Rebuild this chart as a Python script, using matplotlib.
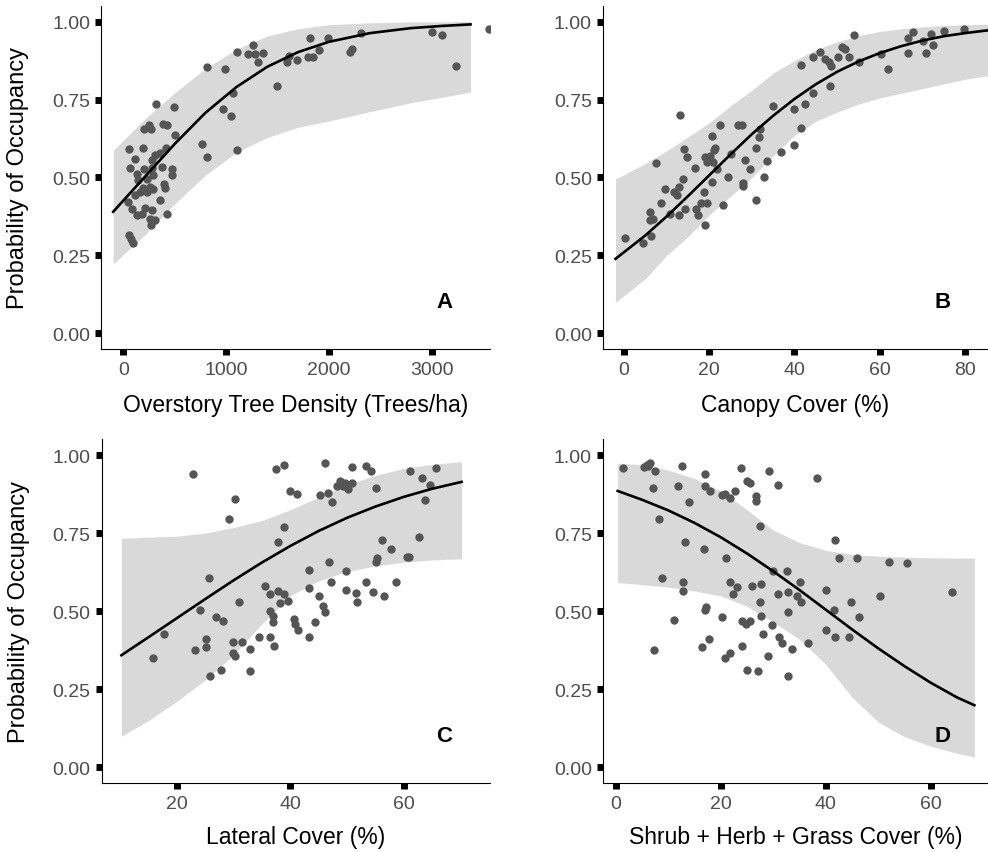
import matplotlib
matplotlib.use('Agg')
import matplotlib.pyplot as plt

plt.rcParams['font.family'] = ['Liberation Sans', 'DejaVu Sans']

# ---- Panel A: overstory tree density ----
densityX = [3560, 3002, 3105, 3235, 2313, 2222, 2206, 1989, 1908, 1816, 1800, 1849, 1687, 1615,
            1589, 1492, 1265, 1217, 1281, 1362, 1307, 1109, 985, 817, 1063, 966, 1050, 764, 810,
            1106, 313, 492, 200, 252, 268, 382, 427, 501, 57, 187, 112, 63, 128, 200, 274, 307,
            355, 414, 274, 372, 469, 469, 144, 226, 291, 394, 404, 193, 258, 47, 112, 161, 226,
            291, 355, 79, 128, 209, 274, 420, 177, 258, 307, 268, 53, 73, 89]
densityY = [0.976, 0.965, 0.958, 0.859, 0.962, 0.912, 0.901, 0.947, 0.910, 0.947, 0.885, 0.885,
            0.878, 0.891, 0.869, 0.795, 0.926, 0.896, 0.896, 0.899, 0.869, 0.903, 0.848, 0.854,
            0.770, 0.720, 0.697, 0.606, 0.567, 0.587, 0.736, 0.727, 0.656, 0.669, 0.656, 0.671,
            0.669, 0.635, 0.592, 0.595, 0.558, 0.530, 0.510, 0.526, 0.555, 0.571, 0.579, 0.594,
            0.530, 0.533, 0.528, 0.507, 0.491, 0.496, 0.507, 0.480, 0.466, 0.466, 0.469, 0.420,
            0.443, 0.453, 0.453, 0.464, 0.427, 0.400, 0.379, 0.402, 0.395, 0.384, 0.384, 0.368,
            0.365, 0.349, 0.315, 0.304, 0.291]
densityCurveX = [-100, 200, 500, 800, 1100, 1400, 1700, 2000, 2400, 2800, 3100, 3380]
densityFit = [0.390, 0.499, 0.608, 0.708, 0.790, 0.855, 0.902, 0.935, 0.963, 0.979, 0.986, 0.991]
densityLow = [0.223, 0.313, 0.416, 0.508, 0.581, 0.628, 0.661, 0.681, 0.711, 0.740, 0.757, 0.774]
densityHigh = [0.587, 0.685, 0.772, 0.850, 0.911, 0.954, 0.977, 0.990, 0.996, 0.999, 0.999, 1.0]

# ---- Panel B: canopy cover ----
canopyX = [0.2, 4.4, 6.3, 6.0, 6.1, 6.7, 7.5, 8.8, 9.6, 10.8, 11.7, 12.4, 12.8, 13.1, 12.8, 13.9,
           14.1, 14.3, 14.7, 16.7, 16.9, 17.4, 18.0, 18.8, 18.9, 19.0, 19.4, 19.5, 20.2, 20.6,
           21.0, 20.8, 20.6, 21.4, 21.9, 22.5, 23.2, 24.5, 25.1, 26.8, 27.6, 27.9, 27.9, 28.4,
           29.6, 31.0, 31.0, 31.6, 31.9, 32.9, 33.5, 34.9, 36.9, 39.9, 40.0, 41.5, 41.6, 42.5,
           44.3, 44.3, 45.9, 47.2, 48.4, 48.2, 48.6, 50.3, 51.1, 51.9, 52.9, 53.9, 55.2, 60.3,
           61.9, 66.6, 66.6, 67.9, 70.1, 70.9, 72.0, 72.4, 75.0, 79.7]
canopyY = [0.306, 0.290, 0.313, 0.389, 0.363, 0.368, 0.546, 0.419, 0.464, 0.384, 0.455, 0.443,
           0.469, 0.699, 0.379, 0.496, 0.592, 0.400, 0.567, 0.531, 0.398, 0.379, 0.419, 0.455,
           0.349, 0.565, 0.549, 0.419, 0.569, 0.633, 0.587, 0.549, 0.485, 0.594, 0.528, 0.669,
           0.411, 0.501, 0.574, 0.667, 0.669, 0.482, 0.473, 0.556, 0.526, 0.595, 0.427, 0.631,
           0.656, 0.503, 0.553, 0.729, 0.581, 0.720, 0.605, 0.861, 0.659, 0.736, 0.885, 0.771,
           0.903, 0.880, 0.795, 0.869, 0.859, 0.887, 0.917, 0.912, 0.885, 0.957, 0.871, 0.896,
           0.848, 0.946, 0.899, 0.965, 0.939, 0.899, 0.960, 0.925, 0.969, 0.976]
canopyCurveX = [-2, 5, 10, 15, 20, 25, 30, 35, 40, 45, 50, 55, 60, 65, 70, 75, 80, 86]
canopyFit = [0.239, 0.314, 0.375, 0.440, 0.507, 0.574, 0.639, 0.698, 0.752, 0.799, 0.839, 0.872,
             0.899, 0.921, 0.939, 0.953, 0.963, 0.973]
canopyLow = [0.100, 0.175, 0.250, 0.310, 0.380, 0.440, 0.500, 0.570, 0.635, 0.680, 0.710, 0.735,
             0.755, 0.770, 0.785, 0.800, 0.815, 0.828]
canopyHigh = [0.495, 0.545, 0.585, 0.630, 0.675, 0.730, 0.780, 0.835, 0.875, 0.910, 0.935, 0.955,
              0.968, 0.977, 0.983, 0.987, 0.990, 0.992]

# ---- Panel C: lateral cover ----
lateralX = [15.8, 17.7, 22.8, 23.1, 24.1, 25.2, 25.2, 25.6, 25.9, 26.9, 27.8, 28.2, 29.2, 29.8,
            29.9, 30.2, 30.2, 31.0, 31.4, 32.9, 32.9, 34.5, 35.6, 36.4, 36.4, 36.4, 36.9, 36.9,
            37.1, 37.5, 37.9, 37.9, 38.2, 38.9, 38.9, 38.9, 39.6, 39.9, 40.6, 40.8, 41.1, 41.4,
            43.2, 43.2, 43.2, 44.3, 45.0, 45.3, 45.7, 46.1, 46.1, 46.7, 46.8, 47.2, 47.3, 48.2,
            48.7, 49.3, 49.8, 49.8, 50.2, 50.8, 50.8, 51.6, 51.7, 53.3, 53.3, 54.2, 54.5, 55.1,
            55.1, 55.3, 56.2, 56.6, 57.7, 58.7, 60.5, 61.1, 62.6, 63.3, 63.7, 64.7, 65.6, 61.0, 49.6]
lateralY = [0.349, 0.427, 0.939, 0.377, 0.505, 0.411, 0.384, 0.605, 0.291, 0.480, 0.313, 0.470,
            0.795, 0.400, 0.366, 0.859, 0.355, 0.528, 0.400, 0.379, 0.307, 0.417, 0.582, 0.555,
            0.502, 0.418, 0.466, 0.486, 0.390, 0.955, 0.720, 0.566, 0.526, 0.969, 0.771, 0.555,
            0.534, 0.886, 0.475, 0.459, 0.875, 0.441, 0.632, 0.574, 0.418, 0.466, 0.548, 0.872,
            0.518, 0.974, 0.496, 0.880, 0.656, 0.594, 0.851, 0.902, 0.918, 0.902, 0.630, 0.569,
            0.891, 0.961, 0.912, 0.558, 0.531, 0.592, 0.966, 0.948, 0.560, 0.893, 0.656, 0.670,
            0.729, 0.548, 0.699, 0.594, 0.672, 0.948, 0.736, 0.925, 0.856, 0.905, 0.957, 0.672, 0.912]
lateralCurveX = [10.2, 15, 20, 25, 30, 35, 40, 45, 50, 55, 60, 65, 70.2]
lateralFit = [0.359, 0.417, 0.478, 0.539, 0.599, 0.656, 0.709, 0.757, 0.799, 0.835, 0.866, 0.892, 0.914]
lateralLow = [0.100, 0.150, 0.212, 0.280, 0.360, 0.460, 0.550, 0.597, 0.627, 0.645, 0.657, 0.664, 0.668]
lateralHigh = [0.733, 0.737, 0.740, 0.750, 0.768, 0.790, 0.825, 0.865, 0.905, 0.935, 0.957, 0.970, 0.979]

# ---- Panel D: shrub + herb + grass cover ----
shrubX = [1.5, 5.4, 5.9, 6.6, 6.2, 7.5, 7.1, 8.3, 7.4, 8.8, 11.9, 12.6, 11.1, 12.9, 12.9, 13.3,
          14.0, 16.4, 16.9, 17.0, 17.0, 17.0, 17.3, 17.7, 17.9, 20.2, 20.2, 20.8, 21.0, 20.8,
          21.8, 21.7, 21.8, 22.3, 22.7, 23.2, 23.8, 24.0, 24.1, 24.9, 25.1, 25.6, 25.9, 25.0,
          25.6, 26.7, 26.7, 27.2, 27.5, 27.5, 27.7, 27.7, 28.0, 29.1, 29.2, 29.7, 29.9, 31.0,
          31.0, 31.2, 31.6, 32.6, 32.8, 32.9, 32.9, 33.5, 34.5, 35.1, 35.3, 36.7, 38.4, 40.1,
          40.1, 41.5, 41.8, 41.8, 42.6, 44.5, 44.9, 45.9, 46.4, 50.4, 52.1, 55.4, 64.0]
shrubY = [0.957, 0.961, 0.968, 0.974, 0.966, 0.948, 0.894, 0.795, 0.377, 0.605, 0.902, 0.966,
          0.472, 0.594, 0.566, 0.720, 0.848, 0.384, 0.699, 0.939, 0.900, 0.505, 0.514, 0.411,
          0.886, 0.480, 0.872, 0.875, 0.670, 0.349, 0.366, 0.592, 0.861, 0.555, 0.886, 0.576,
          0.957, 0.470, 0.390, 0.459, 0.313, 0.470, 0.582, 0.918, 0.912, 0.870, 0.854, 0.307,
          0.772, 0.528, 0.587, 0.486, 0.427, 0.355, 0.948, 0.456, 0.630, 0.555, 0.905, 0.418,
          0.398, 0.630, 0.496, 0.560, 0.291, 0.379, 0.548, 0.594, 0.530, 0.398, 0.925, 0.569,
          0.440, 0.505, 0.728, 0.418, 0.670, 0.418, 0.528, 0.670, 0.480, 0.548, 0.656, 0.654, 0.560]
shrubCurveX = [0.4, 5, 10, 15, 20, 25, 30, 35, 40, 45, 50, 55, 60, 65, 68.3]
shrubFit = [0.885, 0.857, 0.823, 0.783, 0.737, 0.685, 0.628, 0.568, 0.505, 0.442, 0.381, 0.324,
            0.271, 0.224, 0.199]
shrubLow = [0.592, 0.585, 0.577, 0.565, 0.549, 0.516, 0.466, 0.410, 0.330, 0.225, 0.145, 0.098,
            0.068, 0.045, 0.033]
shrubHigh = [0.974, 0.969, 0.952, 0.925, 0.885, 0.825, 0.760, 0.720, 0.695, 0.682, 0.676, 0.673,
             0.671, 0.670, 0.670]

yTicks = [0.0, 0.25, 0.5, 0.75, 1.0]
yTickLabels = ['0.00', '0.25', '0.50', '0.75', '1.00']


def drawPanel(ax, x, y, cx, fit, low, high, xlim, xticks, xlabel, letter, labelY, ylabel=None):
    # ribbon under the points, fitted line on top
    ax.fill_between(cx, low, high, color='#d9d9d9', lw=0, zorder=1)
    ax.scatter(x, y, s=36, color='#555555', lw=0, zorder=2)
    ax.plot(cx, fit, color='black', lw=1.9, zorder=3)
    ax.set_xlim(xlim)
    ax.set_ylim(-0.05, 1.05)
    ax.set_xticks(xticks)
    ax.set_xticklabels([str(t) for t in xticks])
    ax.set_yticks(yTicks)
    ax.set_yticklabels(yTickLabels)
    for side in ['top', 'right']:
        ax.spines[side].set_visible(False)
    for side in ['left', 'bottom']:
        ax.spines[side].set_linewidth(0.8)
    ax.tick_params(length=4.5, width=5, color='black', labelsize=14,
                   labelcolor='#4d4d4d', pad=3.5)
    ax.tick_params(axis='x', pad=4.5)
    ax.set_xlabel(xlabel, fontsize=16.5)
    ax.xaxis.set_label_coords(0.5, labelY)
    ax.xaxis.label.set_va('center')
    if ylabel:
        ax.set_ylabel(ylabel, fontsize=17)
        ax.yaxis.set_label_coords(-0.214, 0.5)
        ax.yaxis.label.set_va('center')
    ax.text(0.882, 0.137, letter, transform=ax.transAxes, ha='center', va='center',
            fontsize=16, fontweight='bold')


fig = plt.figure(figsize=(9.88, 8.53), dpi=100)
axA = fig.add_axes([0.1025, 0.5897, 0.3934, 0.4021])
axB = fig.add_axes([0.6103, 0.5897, 0.3897, 0.4021])
axC = fig.add_axes([0.1029, 0.0809, 0.3930, 0.4028])
axD = fig.add_axes([0.6103, 0.0809, 0.3897, 0.4028])

drawPanel(axA, densityX, densityY, densityCurveX, densityFit, densityLow, densityHigh,
          (-216, 3569), [0, 1000, 2000, 3000], 'Overstory Tree Density (Trees/ha)', 'A', -0.163,
          'Probability of Occupancy')
drawPanel(axB, canopyX, canopyY, canopyCurveX, canopyFit, canopyLow, canopyHigh,
          (-4.93, 85.4), [0, 20, 40, 60, 80], 'Canopy Cover (%)', 'B', -0.163)
drawPanel(axC, lateralX, lateralY, lateralCurveX, lateralFit, lateralLow, lateralHigh,
          (6.72, 75.2), [20, 40, 60], 'Lateral Cover (%)', 'C', -0.155, 'Probability of Occupancy')
drawPanel(axD, shrubX, shrubY, shrubCurveX, shrubFit, shrubLow, shrubHigh,
          (-2.4, 70.9), [0, 20, 40, 60], 'Shrub + Herb + Grass Cover (%)', 'D', -0.155)

fig.savefig('out.png', dpi=100)
